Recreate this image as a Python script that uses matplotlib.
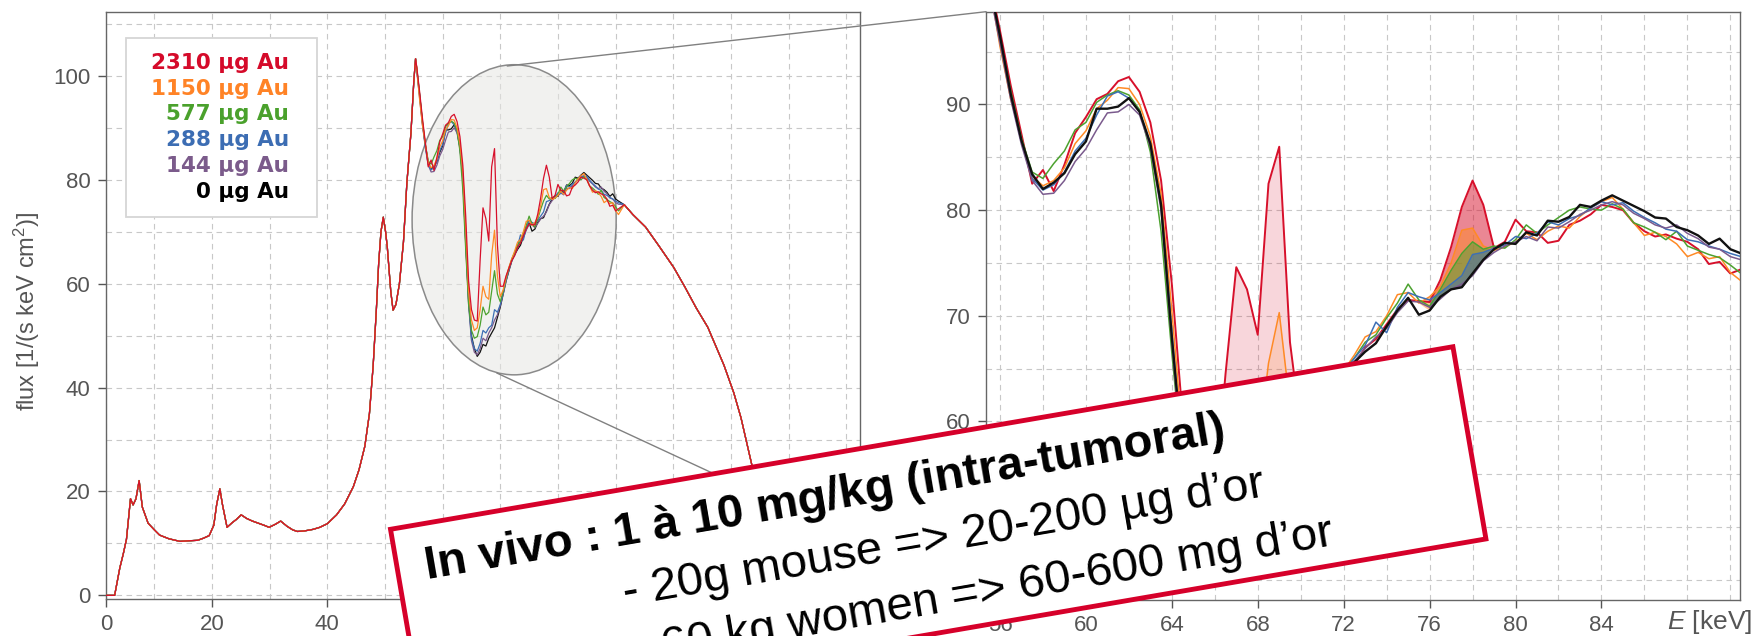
import numpy as np
import matplotlib
matplotlib.use("Agg")
import matplotlib.pyplot as plt
from matplotlib import transforms
from matplotlib.patches import ConnectionPatch, Ellipse, Rectangle
from matplotlib.ticker import FixedLocator, MultipleLocator

plt.rcParams['font.family'] = ['Liberation Sans', 'DejaVu Sans']
plt.rcParams['mathtext.fontset'] = 'custom'
plt.rcParams['mathtext.rm'] = 'Liberation Sans'
plt.rcParams['mathtext.it'] = 'Liberation Sans:italic'

# Gold doses, most to least, with their colours.
DOSE_LABELS = ["2310 µg Au", "1150 µg Au", "577 µg Au", "288 µg Au", "144 µg Au", "0 µg Au"]
LINE_COLORS = ["#d7102b", "#ff8a25", "#4ca22f", "#3d6fb5", "#7a5a8d", "#111111"]
TEXT_COLORS = ["#d50a2a", "#ff8326", "#4aa12c", "#3c6db3", "#7b5b8b", "#000000"]

# Shared part of the spectrum below the zoomed window (all doses overlap).
LOW_E = [0, 2.0, 3.1, 4.0, 4.6, 5.15, 5.85, 6.3, 6.8, 7.35,
         7.9, 8.9, 10.0, 10.9, 12.5, 14.4, 16.0, 17.5, 18.5, 19.5,
         20.3, 20.8, 21.35, 21.8, 22.6, 23.5, 24.2, 25.05, 26.0, 27.0,
         28.0, 29.0, 29.9, 31.0, 31.9, 33.0, 34.0, 34.8, 36.0, 37.5,
         38.7, 40.0, 41.6, 43.0, 44.5, 45.5, 46.5, 47.3, 47.95, 48.5,
         48.9, 49.3, 49.7, 50.1, 50.4, 51.0, 51.4, 51.9, 52.5, 53.2,
         53.8, 54.5, 55.0, 55.3]
LOW_FLUX = [0, 0, 0, 5.3, 8.0, 10.8, 18.6, 17.4, 18.6, 22.1,
            17.0, 13.9, 12.6, 11.6, 10.9, 10.4, 10.5, 10.6, 11.0, 11.5,
            13.5, 17.5, 20.5, 17.5, 13.1, 14.0, 14.6, 15.5, 14.8, 14.3,
            13.9, 13.5, 13.1, 13.7, 14.3, 13.3, 12.6, 12.3, 12.4, 12.7,
            13.1, 13.8, 15.5, 17.6, 20.9, 24.2, 28.7, 35.0, 44.3, 55.0,
            63.9, 70.0, 72.8, 70.0, 67.0, 58.5, 54.9, 56.0, 60.0, 68.0,
            79.5, 89.0, 99.0, 103.3]

# Shared part above the zoomed window.
HIGH_E = [91.5, 93.0, 95.2, 97.5, 100.1, 102.0, 104.0, 106.0, 108.8, 110.5,
          111.75, 113.7, 115.5, 117.5, 119.5, 121.0, 125.0, 132.4]
HIGH_FLUX = [75.2, 73.3, 70.9, 67.3, 63.1, 59.4, 55.3, 51.6, 44.3, 39.0,
             34.2, 24.8, 15.0, 8.0, 2.5, 0.0, 0.0, 0.0]

# Zoomed window 55.5 - 90.5 keV, one list per dose.
ZOOM_E = np.arange(55.5, 90.51, 0.5)
FLUX_2310 = [101.8, 97.0, 91.8, 87.2, 82.5, 83.8, 81.8, 84.3, 87.3, 88.8,
             90.5, 91.0, 92.2, 92.6, 91.2, 88.3, 82.8, 73.0, 60.5, 55.0,
             53.0, 52.8, 64.5, 74.6, 72.5, 68.2, 82.5, 86.0, 67.5, 59.5,
             59.5, 61.5, 63.0, 64.5, 65.4, 67.0, 67.8, 69.2, 70.6, 71.5,
             71.4, 71.3, 73.4, 76.5, 80.3, 82.8, 80.5, 76.4, 77.0, 79.1,
             78.0, 77.9, 76.9, 77.1, 78.6, 79.0, 79.6, 80.5, 80.3, 80.0,
             78.8, 78.0, 77.5, 77.7, 77.3, 77.0, 76.3, 74.9, 75.1, 74.0, 74.4]
FLUX_1150 = [101.5, 95.5, 90.5, 86.8, 83.2, 82.3, 82.8, 84.0, 86.3, 87.5,
             89.6, 90.4, 91.6, 91.5, 90.0, 87.0, 81.5, 70.5, 58.5, 53.0,
             51.0, 51.5, 55.0, 59.5, 57.5, 57.0, 65.5, 70.3, 61.5, 57.5,
             58.8, 61.2, 63.2, 64.8, 66.3, 68.0, 68.5, 70.0, 72.0, 72.2,
             71.2, 71.8, 72.8, 75.0, 78.1, 78.3, 76.6, 76.2, 76.5, 77.0,
             77.8, 77.2, 78.0, 78.5, 78.3, 79.4, 80.2, 80.8, 81.2, 80.1,
             78.8, 77.6, 77.9, 77.5, 76.8, 75.6, 76.0, 75.4, 75.6, 74.1, 73.3]
FLUX_577 = [101.5, 96.3, 91.3, 86.8, 83.6, 83.0, 84.4, 85.6, 87.6, 88.3,
            90.2, 90.9, 91.3, 90.9, 89.5, 85.5, 78.0, 66.5, 56.0, 51.0,
            49.5, 49.8, 52.0, 55.5, 54.0, 54.5, 58.5, 62.5, 58.0, 56.5,
            58.5, 61.0, 63.0, 64.8, 66.0, 67.5, 68.2, 69.8, 71.2, 73.0,
            71.5, 70.9, 72.5, 74.3, 75.9, 77.0, 76.3, 76.6, 76.4, 77.2,
            78.6, 77.8, 78.6, 79.3, 80.0, 80.3, 80.1, 80.0, 80.6, 80.1,
            78.8, 78.4, 77.9, 77.2, 78.0, 76.6, 76.2, 75.8, 75.5, 74.8, 74.0]
FLUX_288 = [101.3, 96.2, 90.8, 86.4, 83.0, 81.9, 82.4, 83.6, 85.6, 86.8,
            89.0, 90.8, 91.2, 90.6, 89.3, 86.3, 80.5, 68.5, 56.5, 49.5,
            47.5, 47.0, 48.5, 51.0, 50.5, 51.5, 52.0, 55.0, 54.5, 56.0,
            58.2, 60.8, 62.8, 64.6, 66.0, 67.2, 69.4, 68.4, 70.8, 72.2,
            71.8, 71.5, 72.2, 73.0, 73.8, 75.8, 76.0, 76.4, 76.7, 77.5,
            77.3, 77.8, 78.9, 78.6, 79.2, 79.5, 80.2, 80.8, 80.5, 80.7,
            79.9, 79.3, 78.8, 78.2, 78.0, 77.2, 77.0, 76.6, 76.3, 75.9, 75.6]
FLUX_144 = [101.0, 95.8, 90.5, 86.2, 82.8, 81.5, 81.6, 82.8, 84.6, 85.8,
            87.6, 89.2, 89.3, 90.0, 89.0, 86.0, 80.0, 67.5, 56.0, 49.0,
            46.8, 46.3, 47.5, 49.5, 49.0, 50.5, 51.5, 53.0, 54.0, 55.8,
            58.0, 60.5, 62.6, 64.4, 65.7, 66.9, 68.0, 68.8, 70.3, 71.4,
            71.3, 70.8, 71.6, 72.5, 73.0, 73.8, 75.2, 76.0, 76.6, 77.0,
            77.5, 77.1, 78.4, 78.3, 78.9, 79.6, 80.0, 80.5, 80.8, 80.5,
            79.7, 79.2, 78.6, 78.3, 78.6, 77.8, 77.3, 76.5, 76.3, 75.6, 75.3]
FLUX_0 = [101.5, 96.5, 91.0, 86.6, 83.4, 82.0, 82.6, 83.5, 85.3, 86.5,
          89.6, 89.6, 89.8, 90.6, 89.3, 86.3, 80.5, 68.0, 57.0, 50.0,
          47.5, 46.0, 46.8, 48.3, 48.0, 49.5, 50.5, 51.5, 53.5, 55.5,
          58.0, 60.5, 62.5, 64.4, 65.6, 66.6, 67.4, 69.0, 70.5, 71.7,
          70.1, 70.5, 71.8, 72.5, 72.7, 74.0, 75.3, 76.3, 76.9, 76.8,
          77.9, 77.6, 79.0, 78.9, 79.35, 80.5, 80.3, 80.9, 81.4, 80.9,
          80.4, 79.9, 79.3, 79.2, 78.4, 78.1, 77.6, 76.8, 77.3, 76.3, 75.9]

ZOOM_SERIES = [FLUX_2310, FLUX_1150, FLUX_577, FLUX_288, FLUX_144, FLUX_0]

# Gold K-fluorescence bands shaded above the 0 µg curve (lo, hi, alpha).
FILL_BANDS = [(65.5, 70.5, 0.17), (76.0, 79.5, 0.5)]

LEFT_XTICKS = [0, 20, 40, 60, 80, 100, 120]
RIGHT_XTICKS = [56, 60, 64, 68, 72, 76, 80, 84]

BOX_LINES = ["In vivo : 1 à 10 mg/kg (intra-tumoral)",
             "- 20g mouse => 20-200 µg d’or",
             "- 60 kg women => 60-600 mg d’or"]

GRAY = "#555555"


def style_axes(ax):
    for spine in ax.spines.values():
        spine.set_color("#666666")
        spine.set_linewidth(1.0)
    ax.tick_params(which="major", direction="out", length=6, width=1,
                   color="#555555", labelcolor=GRAY, labelsize=16, pad=5)
    ax.tick_params(which="minor", length=0)
    ax.grid(True, which="both", color="#c8c8c8", linestyle=(0, (5, 4)), linewidth=0.8)
    ax.set_axisbelow(True)


fig = plt.figure(figsize=(17.59, 6.36), dpi=100)
ax1 = fig.add_axes([0.06026, 0.05818, 0.42866, 0.92217])
ax2 = fig.add_axes([0.56055, 0.0566, 0.42866, 0.925])

# ---- left panel: full spectrum
style_axes(ax1)
x_left = 1.6
ax1.set_xlim(x_left, 132.4)
ax1.set_ylim(-0.7, 112.2)
ax1.xaxis.set_major_locator(FixedLocator([max(t, x_left) for t in LEFT_XTICKS]))
ax1.set_xticklabels([str(t) for t in LEFT_XTICKS])
ax1.xaxis.set_minor_locator(MultipleLocator(10))
ax1.yaxis.set_major_locator(MultipleLocator(20))
ax1.yaxis.set_minor_locator(MultipleLocator(10))

ax1.add_patch(Ellipse((72.4, 72.3), 35.4, 59.7, facecolor="#e6e6e3", alpha=0.55,
                      edgecolor="none", zorder=1.5))
ax1.add_patch(Ellipse((72.4, 72.3), 35.4, 59.7, facecolor="none",
                      edgecolor="#8a8a8a", lw=1.1, zorder=1.6))

for flux, color in list(zip(ZOOM_SERIES, LINE_COLORS))[::-1]:
    e = np.concatenate([LOW_E, ZOOM_E, HIGH_E])
    f = np.concatenate([LOW_FLUX, flux, HIGH_FLUX])
    ax1.plot(e, f, color=color, lw=0.9, zorder=3)

ax1.set_ylabel("flux [1/(s keV cm$^2$)]", fontsize=17, color=GRAY)
ax1.yaxis.set_label_coords(-0.085, 0.49)

# legend: coloured labels only
ax1.add_patch(Rectangle((0.0265, 0.651), 0.2535, 0.306, transform=ax1.transAxes,
                        facecolor="white", edgecolor="#d6d6d6", lw=1.3, zorder=4))
for i, (lab, col) in enumerate(zip(DOSE_LABELS, TEXT_COLORS)):
    ax1.text(0.2427, 0.9144 - i * 0.044, lab, transform=ax1.transAxes, ha="right",
             va="center", color=col, fontsize=15.5, fontweight="bold",
             family="DejaVu Sans", zorder=5)

# ---- right panel: zoom on the gold K-edge region
style_axes(ax2)
ax2.set_xlim(55.35, 90.45)
ax2.set_ylim(43.1, 98.78)
ax2.xaxis.set_major_locator(FixedLocator(RIGHT_XTICKS))
ax2.xaxis.set_minor_locator(MultipleLocator(2))
ax2.yaxis.set_major_locator(MultipleLocator(10))
ax2.yaxis.set_minor_locator(MultipleLocator(5))

base = np.array(FLUX_0)
for flux, color in zip(ZOOM_SERIES[:-1], LINE_COLORS[:-1]):
    flux = np.array(flux)
    for lo, hi, alpha in FILL_BANDS:
        band = (ZOOM_E >= lo) & (ZOOM_E <= hi)
        ax2.fill_between(ZOOM_E, flux, base, where=band & (flux >= base),
                         interpolate=True, color=color, alpha=alpha, lw=0, zorder=2)

widths = [1.4, 1.1, 1.1, 1.1, 1.1, 1.7]
for flux, color, lw in zip(ZOOM_SERIES, LINE_COLORS, widths):
    ax2.plot(ZOOM_E, flux, color=color, lw=lw, zorder=3)

ax2.text(0.903, -0.0374, "$E$ [keV]", transform=ax2.transAxes, ha="left",
         va="center", fontsize=19, color=GRAY, clip_on=False)

# ---- zoom connectors
for xy_a, xy_b in [((71.2, 101.9), (0, 1)), ((69.4, 42.8), (0, 0))]:
    con = ConnectionPatch(xyA=xy_a, coordsA=ax1.transData, xyB=xy_b,
                          coordsB=ax2.transAxes, color="#808080", lw=1.0, zorder=5)
    fig.add_artist(con)

# ---- tilted annotation box (pixel frame, rotated)
angle = 9.75
box_T = transforms.Affine2D().rotate_deg(angle).translate(390.5, 636 - 529.3)
fig.add_artist(Rectangle((0, -195), 1078, 195, transform=box_T, facecolor="white",
                         edgecolor="#d6002a", lw=3.5, zorder=10))
text_pos = [(28, -55, "bold"), (218, -115, "normal"), (218, -175, "normal")]
for (u, v, weight), line in zip(text_pos, BOX_LINES):
    fig.text(u, v, line, transform=box_T, rotation=angle, rotation_mode="anchor",
             ha="left", va="baseline", fontsize=34, fontweight=weight,
             color="black", zorder=12)

fig.savefig("out.png", dpi=100)
